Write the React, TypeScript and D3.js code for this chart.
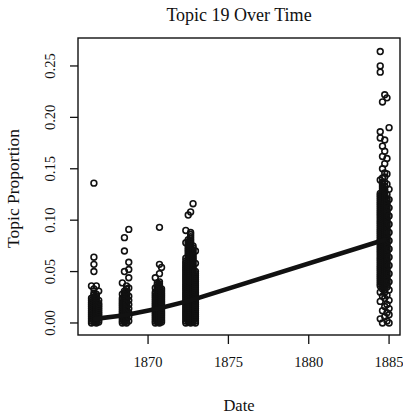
import React from 'react';
import * as d3 from 'd3';

const W = 403;
const H = 416;

// publication dates (decimal years), one column of topic proportions per date
const dates1866 = [1866.48, 1866.63, 1866.78, 1866.93];
const values1866 = [
  [0.000, 0.002, 0.004, 0.006, 0.008, 0.010, 0.012, 0.014, 0.016, 0.018, 0.020, 0.022, 0.024, 0.036],
  [0.001, 0.003, 0.005, 0.007, 0.009, 0.011, 0.013, 0.015, 0.017, 0.019, 0.021, 0.023, 0.025, 0.027, 0.029, 0.033, 0.050, 0.057, 0.064, 0.136],
  [0.000, 0.002, 0.004, 0.006, 0.008, 0.010, 0.012, 0.014, 0.016, 0.018, 0.020, 0.022, 0.024, 0.026, 0.028, 0.036],
  [0.001, 0.003, 0.005, 0.007, 0.009, 0.011, 0.013, 0.015, 0.017, 0.019, 0.022, 0.031],
];

const dates1868 = [1868.40, 1868.53, 1868.66, 1868.80];
const values1868 = [
  [0.000, 0.002, 0.004, 0.006, 0.008, 0.010, 0.012, 0.014, 0.016, 0.018, 0.020, 0.022, 0.024, 0.028, 0.039],
  [0.001, 0.003, 0.005, 0.007, 0.009, 0.011, 0.013, 0.015, 0.017, 0.019, 0.021, 0.023, 0.025, 0.027, 0.029, 0.031, 0.050, 0.070, 0.083],
  [0.000, 0.002, 0.004, 0.006, 0.008, 0.010, 0.012, 0.014, 0.016, 0.018, 0.020, 0.022, 0.024, 0.026, 0.028, 0.030, 0.033, 0.036],
  [0.002, 0.006, 0.010, 0.014, 0.018, 0.022, 0.026, 0.034, 0.044, 0.052, 0.059, 0.091],
];

const dates1870 = [1870.45, 1870.58, 1870.71, 1870.84];
const values1870 = [
  [0.000, 0.002, 0.004, 0.006, 0.008, 0.010, 0.012, 0.014, 0.016, 0.018, 0.020, 0.022, 0.024, 0.026, 0.028, 0.030, 0.034, 0.044],
  [0.001, 0.003, 0.005, 0.007, 0.009, 0.011, 0.013, 0.015, 0.017, 0.019, 0.021, 0.023, 0.025, 0.027, 0.029, 0.031, 0.033, 0.035, 0.037, 0.039],
  [0.000, 0.002, 0.004, 0.006, 0.008, 0.010, 0.012, 0.014, 0.016, 0.018, 0.020, 0.022, 0.024, 0.026, 0.028, 0.030, 0.032, 0.034, 0.036, 0.038, 0.040, 0.048, 0.057, 0.093],
  [0.001, 0.003, 0.005, 0.007, 0.009, 0.011, 0.013, 0.015, 0.017, 0.019, 0.021, 0.023, 0.025, 0.027, 0.029, 0.031, 0.033, 0.054],
];

const dates1872 = [1872.35, 1872.50, 1872.65, 1872.80, 1872.95];
const values1872 = [
  [0.000, 0.002, 0.004, 0.006, 0.008, 0.010, 0.012, 0.014, 0.016, 0.018, 0.020, 0.022, 0.024, 0.026, 0.028, 0.030, 0.032, 0.034, 0.036, 0.038, 0.040, 0.042, 0.044, 0.046, 0.048, 0.050, 0.052, 0.054, 0.056, 0.058, 0.060, 0.063, 0.078, 0.090],
  [0.001, 0.003, 0.005, 0.007, 0.009, 0.011, 0.013, 0.015, 0.017, 0.019, 0.021, 0.023, 0.025, 0.027, 0.029, 0.031, 0.033, 0.035, 0.037, 0.039, 0.041, 0.043, 0.045, 0.047, 0.049, 0.051, 0.053, 0.055, 0.057, 0.059, 0.061, 0.063, 0.065, 0.067, 0.069, 0.071, 0.073, 0.075, 0.077, 0.079, 0.081, 0.105],
  [0.000, 0.002, 0.004, 0.006, 0.008, 0.010, 0.012, 0.014, 0.016, 0.018, 0.020, 0.022, 0.024, 0.026, 0.028, 0.030, 0.032, 0.034, 0.036, 0.038, 0.040, 0.042, 0.044, 0.046, 0.048, 0.050, 0.052, 0.054, 0.056, 0.058, 0.060, 0.062, 0.064, 0.066, 0.068, 0.070, 0.072, 0.074, 0.076, 0.078, 0.080, 0.082, 0.084, 0.086, 0.088, 0.108],
  [0.001, 0.003, 0.005, 0.007, 0.009, 0.011, 0.013, 0.015, 0.017, 0.019, 0.021, 0.023, 0.025, 0.027, 0.029, 0.031, 0.033, 0.035, 0.037, 0.039, 0.041, 0.043, 0.045, 0.047, 0.049, 0.051, 0.053, 0.055, 0.057, 0.059, 0.061, 0.063, 0.065, 0.067, 0.069, 0.071, 0.073, 0.075, 0.116],
  [0.000, 0.002, 0.004, 0.006, 0.008, 0.010, 0.012, 0.014, 0.016, 0.018, 0.020, 0.022, 0.024, 0.026, 0.028, 0.030, 0.032, 0.034, 0.036, 0.038, 0.040, 0.042, 0.044, 0.046, 0.048, 0.050, 0.058, 0.070],
];

const dates1884 = [1884.45, 1884.59, 1884.73, 1884.87, 1885.00];
const values1884 = [
  [0.004, 0.021, 0.030, 0.036, 0.038, 0.040, 0.042, 0.044, 0.046, 0.048, 0.050, 0.052, 0.054, 0.056, 0.058, 0.060, 0.062, 0.064, 0.066, 0.068, 0.070, 0.072, 0.074, 0.076, 0.078, 0.080, 0.082, 0.084, 0.086, 0.088, 0.090, 0.092, 0.094, 0.096, 0.098, 0.100, 0.102, 0.104, 0.106, 0.108, 0.110, 0.112, 0.114, 0.116, 0.118, 0.120, 0.122, 0.124, 0.126, 0.139, 0.180, 0.186, 0.244, 0.250, 0.264],
  [0.000, 0.012, 0.026, 0.033, 0.035, 0.037, 0.039, 0.041, 0.043, 0.045, 0.047, 0.049, 0.051, 0.053, 0.055, 0.057, 0.059, 0.061, 0.063, 0.065, 0.067, 0.069, 0.071, 0.073, 0.075, 0.077, 0.079, 0.081, 0.083, 0.085, 0.087, 0.089, 0.091, 0.093, 0.095, 0.097, 0.099, 0.101, 0.103, 0.105, 0.107, 0.109, 0.111, 0.113, 0.115, 0.117, 0.119, 0.121, 0.123, 0.125, 0.127, 0.129, 0.131, 0.133, 0.135, 0.137, 0.141, 0.150, 0.162, 0.172, 0.215],
  [0.006, 0.016, 0.024, 0.030, 0.032, 0.034, 0.036, 0.038, 0.040, 0.042, 0.044, 0.046, 0.048, 0.050, 0.052, 0.054, 0.056, 0.058, 0.060, 0.062, 0.064, 0.066, 0.068, 0.070, 0.072, 0.074, 0.076, 0.078, 0.080, 0.082, 0.084, 0.086, 0.088, 0.090, 0.092, 0.094, 0.096, 0.098, 0.100, 0.102, 0.104, 0.106, 0.108, 0.110, 0.112, 0.114, 0.116, 0.118, 0.120, 0.122, 0.124, 0.126, 0.128, 0.130, 0.133, 0.137, 0.142, 0.146, 0.155, 0.167, 0.178, 0.222],
  [0.002, 0.010, 0.018, 0.027, 0.035, 0.037, 0.039, 0.041, 0.043, 0.045, 0.047, 0.049, 0.051, 0.053, 0.055, 0.057, 0.059, 0.061, 0.063, 0.065, 0.067, 0.069, 0.071, 0.073, 0.075, 0.077, 0.079, 0.081, 0.083, 0.085, 0.087, 0.089, 0.091, 0.093, 0.095, 0.097, 0.099, 0.101, 0.103, 0.105, 0.107, 0.109, 0.111, 0.113, 0.115, 0.117, 0.119, 0.121, 0.125, 0.135, 0.145, 0.160, 0.219],
  [0.000, 0.008, 0.014, 0.022, 0.032, 0.040, 0.048, 0.056, 0.064, 0.072, 0.080, 0.088, 0.096, 0.104, 0.112, 0.120, 0.130, 0.190],
];

// mean proportion per year, drawn as the thick line
const meanDates = [1866.70, 1868.55, 1870.65, 1872.65, 1884.72];
const meanValues = [0.004, 0.0075, 0.014, 0.022, 0.081];

const xTicks = [1870, 1875, 1880, 1885];
const yTicks = [0, 0.05, 0.1, 0.15, 0.2, 0.25];

const FONT = '"Liberation Serif", "Times New Roman", serif';

export default function App() {
  const left = 78, right = 400, top = 38, bottom = 335;

  const x = d3.scaleLinear().domain([1865.64, 1885.68]).range([left, right]);
  const y = d3.scaleLinear().domain([-0.0117, 0.2772]).range([bottom, top]);

  const clusters = [
    { dates: dates1866, values: values1866 },
    { dates: dates1868, values: values1868 },
    { dates: dates1870, values: values1870 },
    { dates: dates1872, values: values1872 },
    { dates: dates1884, values: values1884 },
  ];
  const points = clusters.flatMap(c =>
    c.dates.flatMap((d, i) => c.values[i].map(v => ({ date: d, value: v })))
  );

  const meanLine = d3.line<number>()
    .x((_, i) => x(meanDates[i]))
    .y(d => y(d))(meanValues) || '';

  return (
    <svg width={W} height={H} style={{ position: 'absolute', left: 0, top: 0, background: '#fff' }}>
      <rect x={0} y={0} width={W} height={H} fill="#fff" />

      <text x={(left + right) / 2} y={21} textAnchor="middle" fontFamily={FONT} fontSize={18} fill="#111">
        Topic 19 Over Time
      </text>

      {points.map((p, i) => (
        <circle key={i} cx={x(p.date)} cy={y(p.value)} r={2.9} fill="none" stroke="#111" strokeWidth={1.6} />
      ))}

      <path d={meanLine} fill="none" stroke="#111" strokeWidth={4.6} strokeLinecap="round" strokeLinejoin="round" />

      <rect x={left} y={top} width={right - left} height={bottom - top} fill="none" stroke="#111" strokeWidth={1.4} />

      {yTicks.map(t => (
        <g key={t}>
          <line x1={left - 8} x2={left} y1={y(t)} y2={y(t)} stroke="#111" strokeWidth={1.3} />
          <text transform={`translate(55,${y(t)}) rotate(-90)`} textAnchor="middle"
            fontFamily={FONT} fontSize={14.5} fill="#111">
            {d3.format('.2f')(t)}
          </text>
        </g>
      ))}

      {xTicks.map(t => (
        <g key={t}>
          <line x1={x(t)} x2={x(t)} y1={bottom} y2={bottom + 9} stroke="#111" strokeWidth={1.3} />
          <text x={x(t)} y={367} textAnchor="middle" fontFamily={FONT} fontSize={14.5} fill="#111">
            {t}
          </text>
        </g>
      ))}

      <text x={(left + right) / 2} y={411} textAnchor="middle" fontFamily={FONT} fontSize={16.5} fill="#111">
        Date
      </text>
      <text transform={`translate(19,${(top + bottom) / 2 + 2}) rotate(-90)`} textAnchor="middle"
        fontFamily={FONT} fontSize={17.5} fill="#111">
        Topic Proportion
      </text>
    </svg>
  );
}
